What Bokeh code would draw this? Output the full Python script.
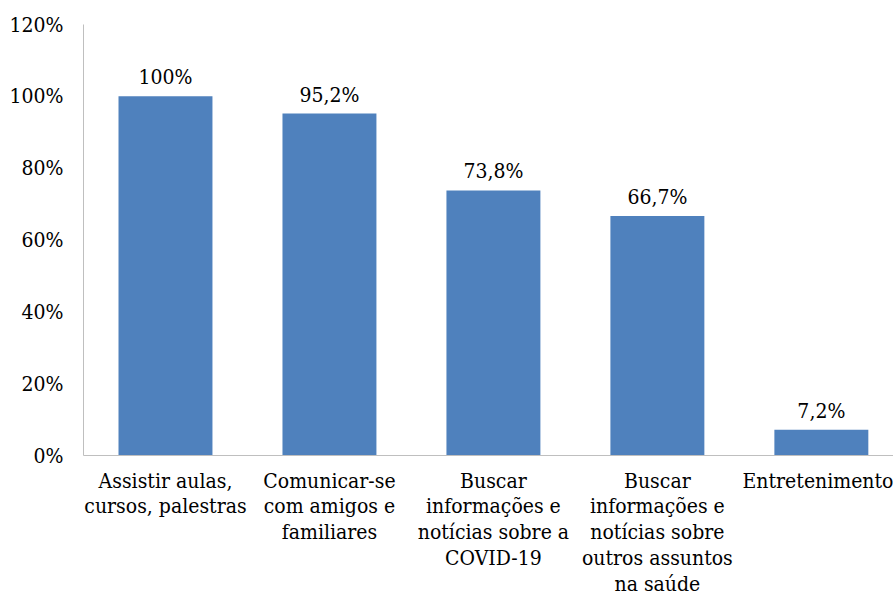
from bokeh.plotting import figure
from bokeh.models import Range1d, FixedTicker, PrintfTickFormatter, ColumnDataSource
from bokeh.core.properties import value
from bokeh.embed import file_html
from bokeh.resources import INLINE

categories = [
    "Assistir aulas,\ncursos, palestras",
    "Comunicar-se\ncom amigos e\nfamiliares",
    "Buscar\ninformações e\nnotícias sobre a\nCOVID-19",
    "Buscar\ninformações e\nnotícias sobre\noutros assuntos\nna saúde",
    "Entretenimento",
]
values = [100, 95.2, 73.8, 66.7, 7.2]
value_labels = ["100%", "95,2%", "73,8%", "66,7%", "7,2%"]
y_ticks = [0, 20, 40, 60, 80, 100, 120]

FONT = "DejaVu Serif Condensed"
FSIZE = "21px"
BAR_COLOR = "#4F81BD"

xs = list(range(len(categories)))
src = ColumnDataSource(dict(x=xs, top=values, label=value_labels))

p = figure(
    width=893, height=600,
    output_backend="svg", toolbar_location=None,
    x_range=Range1d(-0.5, 4.44), y_range=Range1d(0, 120),
    min_border_left=83, min_border_right=0, min_border_top=24, min_border_bottom=145,
)
p.outline_line_color = None
p.xgrid.visible = False
p.ygrid.visible = False
p.background_fill_color = "white"
p.border_fill_color = "white"

p.vbar(x="x", top="top", width=0.573, bottom=0, source=src,
       fill_color=BAR_COLOR, line_color=None)

p.text(x="x", y="top", text="label", source=src,
       text_font=value(FONT), text_font_size=FSIZE, text_color="#000000",
       text_align="center", text_baseline="bottom", y_offset=-7)

# y axis
ya = p.yaxis[0]
ya.ticker = FixedTicker(ticks=y_ticks)
ya.formatter = PrintfTickFormatter(format="%d%%")
ya.major_tick_out = 0
ya.major_tick_in = 0
ya.minor_tick_out = 0
ya.minor_tick_in = 0
ya.major_label_standoff = 20
ya.axis_line_color = "#BFBFBF"
ya.major_label_text_font = FONT
ya.major_label_text_font_size = FSIZE
ya.major_label_text_color = "#000000"

# x axis
xa = p.xaxis[0]
xa.ticker = FixedTicker(ticks=xs)
xa.major_label_overrides = {i: c for i, c in zip(xs, categories)}
xa.major_tick_out = 0
xa.major_tick_in = 0
xa.minor_tick_out = 0
xa.minor_tick_in = 0
xa.major_label_standoff = 13
xa.axis_line_color = "#BFBFBF"
xa.major_label_text_font = FONT
xa.major_label_text_font_size = FSIZE
xa.major_label_text_color = "#000000"
xa.major_label_text_line_height = 1.08

open("out.html", "w").write(file_html(p, INLINE))
